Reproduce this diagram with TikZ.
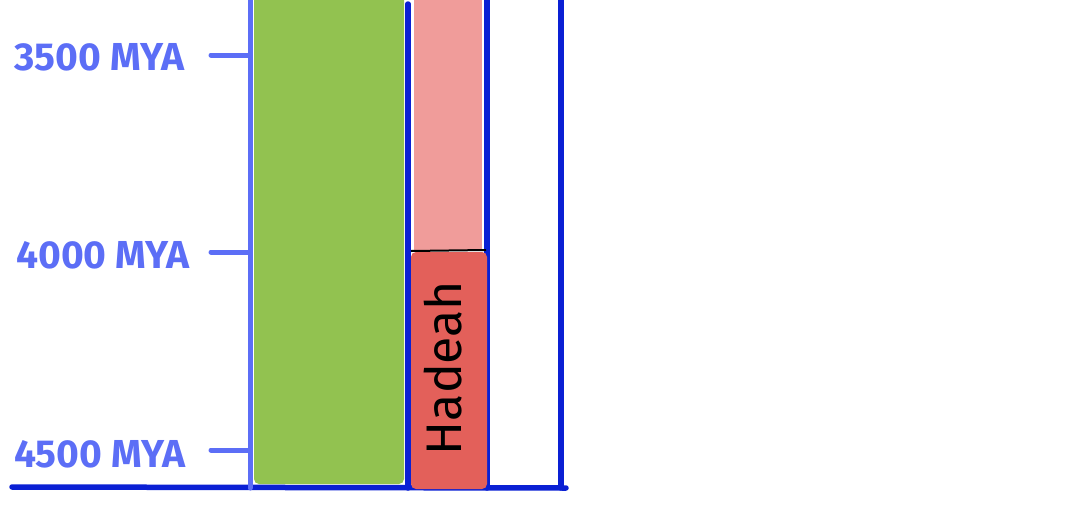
\documentclass[tikz,border=0pt]{standalone}
\usepackage{fontspec}
\setmainfont{Fira Sans}
\definecolor{ejeclaro}{HTML}{5C6EF6}
\definecolor{ejeosc}{HTML}{0A20D4}
\definecolor{verde}{HTML}{92C250}
\definecolor{rosa}{HTML}{F09C9A}
\definecolor{rojo}{HTML}{E3605A}
\usetikzlibrary{positioning}

\begin{document}
\begin{tikzpicture}[
  x=1pt, y=-1pt,
  etiqueta/.style={text=ejeclaro, font=\fontsize{39}{39}\selectfont\bfseries, inner sep=0pt, anchor=west},
  marca/.style={draw=ejeclaro, line width=5pt, line cap=round},
  linea/.style={draw=ejeosc, line width=5.5pt, line cap=round},
  barra/.style={rounded corners=5pt}
]
\useasboundingbox (0,0) rectangle (1088,504);
% barras
\fill[verde, barra] (254,-10) rectangle (404,484);
\fill[rosa] (414,-10) rectangle (482,250);
% lineas oscuras
\draw[linea] (408,4) -- (408,488);
\draw[linea] (487,-5) -- (487,488);
\draw[linea] (561,-5) -- (561,488);
\draw[linea] (12,487) -- (566,488);
% eon
\fill[rojo, barra] (411,252) rectangle (487,489);
\draw[black, line width=2pt] (411,251) -- (486,250);
\node[rotate=90, font=\fontsize{50}{50}\selectfont, inner sep=0pt] (hadeah) at (443,368) {Hadeah};
% eje
\draw[marca] (250,-5) -- (250,488);
\coordinate (eje1) at (250,55);
\coordinate (eje2) at (250,252);
\coordinate (eje3) at (250,450);
\node[etiqueta] (m3500) at (14,57) {3500 MYA};
\node[etiqueta] (m4000) at (16,255) {4000 MYA};
\node[etiqueta] (m4500) at (14,454) {4500 MYA};
\draw[marca] (211,55) -- (eje1);
\draw[marca] (211,252) -- (eje2);
\draw[marca] (211,450) -- (eje3);
\end{tikzpicture}
\end{document}
